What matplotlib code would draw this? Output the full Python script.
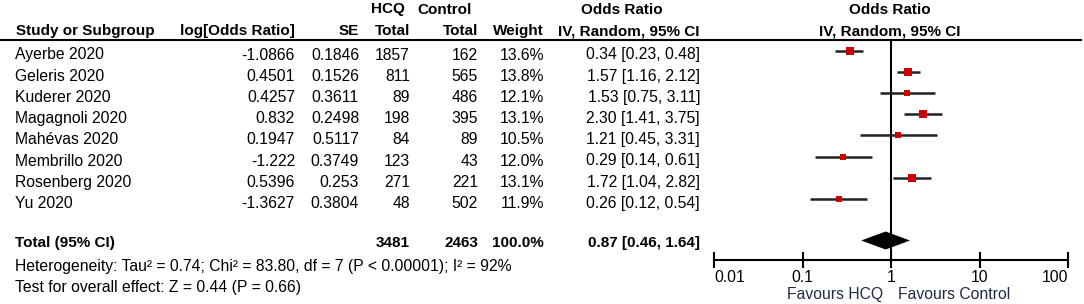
import numpy as np
from matplotlib import pyplot as plt

# study-level data
studies = ["Ayerbe 2020", "Geleris 2020", "Kuderer 2020", "Magagnoli 2020",
           "Mahévas 2020", "Membrillo 2020", "Rosenberg 2020", "Yu 2020"]
log_or = [-1.0866, 0.4501, 0.4257, 0.832, 0.1947, -1.222, 0.5396, -1.3627]
se = [0.1846, 0.1526, 0.3611, 0.2498, 0.5117, 0.3749, 0.253, 0.3804]
hcq_total = [1857, 811, 89, 198, 84, 123, 271, 48]
ctrl_total = [162, 565, 486, 395, 89, 43, 221, 502]
weight = [13.6, 13.8, 12.1, 13.1, 10.5, 12.0, 13.1, 11.9]
odds = [0.34, 1.57, 1.53, 2.30, 1.21, 0.29, 1.72, 0.26]
ci_low = [0.23, 1.16, 0.75, 1.41, 0.45, 0.14, 1.04, 0.12]
ci_high = [0.48, 2.12, 3.11, 3.75, 3.31, 0.61, 2.82, 0.54]

total_hcq = 3481
total_ctrl = 2463
total_weight = 100.0
total_or = 0.87
total_low = 0.46
total_high = 1.64

axis_ticks = [0.01, 0.1, 1, 10, 100]
axis_labels = ["0.01", "0.1", "1", "10", "100"]

heterogeneity = "Heterogeneity: Tau² = 0.74; Chi² = 83.80, df = 7 (P < 0.00001); I² = 92%"
overall = "Test for overall effect: Z = 0.44 (P = 0.66)"

W, H = 1084, 304
FONT = "Liberation Sans"
FS = 11
FS_REG = 11.3

fig = plt.figure(figsize=(W / 100, H / 100), dpi=100)
ax = fig.add_axes([0, 0, 1, 1])
ax.set_xlim(0, W)
ax.set_ylim(H, 0)
ax.axis("off")


def txt(x, y, s, ha="left", bold=False, color="black"):
    ax.text(x, y, s, ha=ha, va="baseline", fontsize=FS if bold else FS_REG, family=FONT,
            fontweight="bold" if bold else "normal", color=color)


# headers
txt(371, 13.5, "HCQ", bold=True)
txt(417, 13.5, "Control", bold=True)
txt(622, 13.5, "Odds Ratio", ha="center", bold=True)
txt(890, 13.5, "Odds Ratio", ha="center", bold=True)
txt(16, 35, "Study or Subgroup", bold=True)
txt(295, 35, "log[Odds Ratio]", ha="right", bold=True)
txt(359, 35, "SE", ha="right", bold=True)
txt(410, 35, "Total", ha="right", bold=True)
txt(478, 35, "Total", ha="right", bold=True)
txt(544, 35, "Weight", ha="right", bold=True)
txt(700, 35, "IV, Random, 95% CI", ha="right", bold=True)
txt(890, 35, "IV, Random, 95% CI", ha="center", bold=True)
ax.plot([0, 1081], [39.5, 39.5], color="black", lw=1.5)

row_y = 50.5 + 21.2 * np.arange(len(studies))
for i, name in enumerate(studies):
    yb = row_y[i] + 9
    txt(15, yb, name)
    txt(295, yb, f"{log_or[i]:g}", ha="right")
    txt(359, yb, f"{se[i]:g}", ha="right")
    txt(410, yb, str(hcq_total[i]), ha="right")
    txt(478, yb, str(ctrl_total[i]), ha="right")
    txt(544, yb, f"{weight[i]:.1f}%", ha="right")
    txt(700, yb, f"{odds[i]:.2f} [{ci_low[i]:.2f}, {ci_high[i]:.2f}]", ha="right")

total_y = 240.5
txt(15, 247, "Total (95% CI)", bold=True)
txt(410, 247, str(total_hcq), ha="right", bold=True)
txt(478, 247, str(total_ctrl), ha="right", bold=True)
txt(544, 247, f"{total_weight:.1f}%", ha="right", bold=True)
txt(700, 247, f"{total_or:.2f} [{total_low:.2f}, {total_high:.2f}]", ha="right", bold=True)
txt(15, 271, heterogeneity)
txt(15, 292, overall)

# forest panel
fax = fig.add_axes([714 / W, (H - 260) / H, 354 / W, (260 - 39.5) / H])
fax.set_xscale("log")
fax.set_xlim(0.01, 100)
fax.set_ylim(260, 39.5)
fax.patch.set_alpha(0)
for s in ["top", "left", "right"]:
    fax.spines[s].set_visible(False)
fax.spines["bottom"].set_linewidth(1.5)
fax.set_yticks([])
fax.minorticks_off()
fax.set_xticks(axis_ticks)
fax.set_xticklabels(axis_labels, fontsize=FS_REG, family=FONT)
fax.tick_params(axis="x", which="major", direction="inout", length=11, width=1.5, pad=2)
labs = fax.get_xticklabels()
labs[0].set_ha("left")
labs[-1].set_ha("right")
fax.axvline(1, color="black", lw=1.5)

for i in range(len(studies)):
    fax.plot([ci_low[i], ci_high[i]], [row_y[i], row_y[i]], color="#222222", lw=1.8,
             solid_capstyle="butt")
    fax.plot(odds[i], row_y[i], marker="s", color="#cc0000", markersize=weight[i] * 0.4,
             markeredgewidth=0)

dh = 9
fax.fill([total_low, total_or, total_high, total_or],
         [total_y, total_y - dh, total_y, total_y + dh], color="black", lw=0)

txt(883, 299, "Favours HCQ", ha="right", color="#1f2a44")
txt(898, 299, "Favours Control", color="#1f2a44")

fig.savefig("out.png", dpi=100)
